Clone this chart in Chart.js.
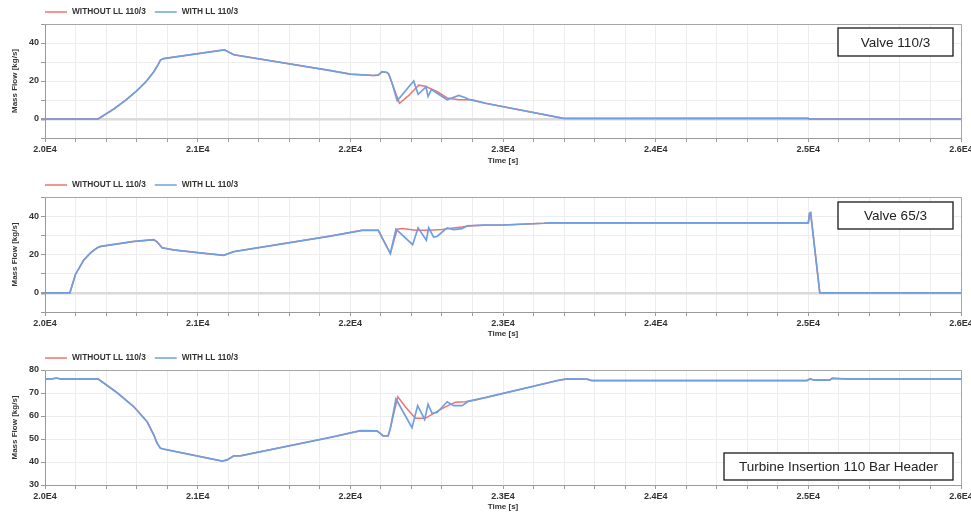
<!DOCTYPE html>
<html>
<head>
<meta charset="utf-8">
<script src="https://cdn.jsdelivr.net/npm/chart.js@4.4.1/dist/chart.umd.min.js"></script>
<style>
  html, body { margin: 0; padding: 0; background: #fff; }
  body { width: 971px; height: 513px; position: relative; overflow: hidden; }
  canvas { position: absolute; left: 0; }
</style>
</head>
<body>
<canvas id="valve110" width="971" height="170" style="top:0"></canvas>
<canvas id="valve65" width="971" height="172" style="top:170px"></canvas>
<canvas id="header110" width="971" height="173" style="top:340px"></canvas>
<script>
// series names
const seriesNames = ['WITHOUT LL 110/3', 'WITH LL 110/3'];

// Valve 110/3 mass flow [time s, kg/s]
const v110Start = [[20000, 0], [20348, 0], [20451, 5.3], [20530, 10], [20599, 14.7], [20660, 19.5],
  [20713, 24.9], [20740, 28.5], [20756, 31], [20778, 31.8], [21175, 36.4], [21237, 33.8],
  [21870, 25.5], [22001, 23.6], [22153, 22.9], [22183, 23.1], [22208, 24.9], [22240, 24.5],
  [22252, 23.6], [22274, 18.7]];
const v110With = [[22307, 9.6], [22415, 20], [22444, 13], [22496, 16.9], [22509, 11.9], [22531, 15.5],
  [22634, 10.1], [22710, 12.4], [22754, 11.2], [22775, 10.3]];
const v110Without = [[22322, 8.3], [22383, 12.4], [22448, 17.8], [22492, 17.2], [22573, 14.2],
  [22634, 11.1], [22710, 10.1], [22797, 10.1]];
const v110End = [[22885, 8.3], [23398, 0.3], [25000, 0.4], [25005, 0], [26000, 0]];

// Valve 65/3 mass flow
const v65Start = [[20000, 0], [20163, 0], [20200, 9.7], [20254, 17.1], [20300, 21], [20342, 23.5],
  [20363, 24.2], [20582, 26.8], [20713, 27.7], [20735, 26.5], [20767, 23.5], [20843, 22.4],
  [21018, 20.8], [21171, 19.6], [21237, 21.5], [21870, 29.6], [22077, 32.6], [22183, 32.6],
  [22262, 20.5]];
const v65With = [[22299, 33.2], [22408, 25.1], [22444, 33.9], [22498, 27.4], [22513, 33.9],
  [22546, 29.1], [22568, 29.4], [22634, 33.9], [22677, 33], [22732, 33.5], [22765, 35]];
const v65Without = [[22307, 33.2], [22340, 33.5], [22427, 32.6], [22513, 32.6], [22601, 33],
  [22688, 33.9], [22797, 35]];
const v65End = [[22874, 35.3], [23005, 35.4], [23267, 36.3], [23300, 36.5], [25000, 36.5],
  [25008, 41.5], [25015, 41.8], [25075, 0], [26000, 0]];

// Turbine insertion 110 bar header mass flow
const hdrStart = [[20000, 76.1], [20040, 76.1], [20076, 76.5], [20100, 76.1], [20348, 76.1],
  [20473, 70.1], [20582, 64], [20669, 57.5], [20713, 51.7], [20735, 48.1], [20756, 46],
  [20778, 45.6], [21160, 40.4], [21193, 40.9], [21237, 42.7], [21280, 42.7], [21870, 50.7],
  [22066, 53.6], [22175, 53.5], [22215, 51.4], [22248, 51.4], [22262, 54.6]];
const hdrWith = [[22299, 67.4], [22404, 54.9], [22441, 64.5], [22487, 58.5], [22509, 65.1],
  [22535, 61.2], [22568, 61.5], [22634, 66.2], [22677, 64.5], [22732, 64.5], [22775, 66.5]];
const hdrWithout = [[22311, 68.4], [22360, 64], [22426, 59], [22491, 59], [22557, 61.6],
  [22622, 64], [22688, 66], [22753, 66.2], [22819, 67]];
const hdrEnd = [[22885, 68], [23376, 75.7], [23419, 76.1], [23551, 76], [23580, 75.4],
  [24991, 75.4], [25010, 76.1], [25040, 75.6], [25140, 75.6], [25156, 76.4], [25244, 76.1],
  [26000, 76.1]];

const RED = '#f07272';
const BLUE = '#6f9fe2';
const TXT = '#333';

// legend row drawn above the plot area
const keyPlugin = {
  id: 'key',
  afterDraw(chart) {
    const {ctx, chartArea} = chart;
    const y = chartArea.top - 12;
    let x = chartArea.left;
    ctx.save();
    ctx.font = 'bold 8.3px "Liberation Sans", Arial, sans-serif';
    ctx.textBaseline = 'middle';
    chart.data.datasets.forEach(ds => {
      ctx.strokeStyle = ds.borderColor;
      ctx.lineWidth = 1.5;
      ctx.beginPath();
      ctx.moveTo(x, y);
      ctx.lineTo(x + 22, y);
      ctx.stroke();
      ctx.fillStyle = TXT;
      ctx.fillText(ds.label, x + 27, y);
      x += 27 + ctx.measureText(ds.label).width + 9;
    });
    ctx.restore();
  }
};

// grey frame on top and right of the plot
const framePlugin = {
  id: 'frame',
  beforeDatasetsDraw(chart) {
    const {ctx, chartArea: a} = chart;
    ctx.save();
    ctx.strokeStyle = '#a6a6a6';
    ctx.lineWidth = 1;
    ctx.beginPath();
    ctx.moveTo(a.left, a.top + 0.5);
    ctx.lineTo(a.right + 0.5, a.top + 0.5);
    ctx.lineTo(a.right + 0.5, a.bottom);
    ctx.stroke();
    ctx.restore();
  }
};

// boxed caption
const tagPlugin = {
  id: 'tag',
  afterDraw(chart, args, opts) {
    if (!opts.text) return;
    const {ctx} = chart;
    const [x, y, w, h] = opts.box;
    ctx.save();
    ctx.fillStyle = '#fff';
    ctx.fillRect(x, y, w, h);
    ctx.strokeStyle = '#1a1a1a';
    ctx.lineWidth = 1.3;
    ctx.strokeRect(x, y, w, h);
    ctx.fillStyle = '#222';
    ctx.font = '13.5px "Liberation Sans", Arial, sans-serif';
    ctx.textAlign = 'center';
    ctx.textBaseline = 'middle';
    ctx.fillText(opts.text, x + w / 2, y + h / 2 + 1);
    ctx.restore();
  }
};

function makeChart(id, p) {
  const h = document.getElementById(id).height;
  return new Chart(document.getElementById(id), {
    type: 'line',
    data: {
      datasets: [
        { label: seriesNames[0], data: p.without, borderColor: RED, borderWidth: 1.5, order: 1 },
        { label: seriesNames[1], data: p.with, borderColor: BLUE, borderWidth: 1.7, order: 0 }
      ]
    },
    options: {
      responsive: false,
      animation: false,
      events: [],
      layout: { padding: { top: p.areaTop, right: 10, left: 0, bottom: 0 } },
      elements: { point: { radius: 0 }, line: { tension: 0 } },
      plugins: {
        legend: { display: false },
        tooltip: { enabled: false },
        tag: { text: p.tag, box: p.tagBox }
      },
      scales: {
        x: {
          type: 'linear',
          min: 20000,
          max: 26000,
          afterFit(s) { s.height = h - p.areaBottom; s.paddingLeft = 0; s.paddingRight = 0; },
          grid: { color: '#ededed', tickColor: '#9a9a9a', tickLength: 4 },
          border: { color: '#9a9a9a' },
          ticks: {
            stepSize: 200,
            autoSkip: false,
            maxRotation: 0,
            padding: 2,
            color: TXT,
            font: { family: '"Liberation Sans", Arial, sans-serif', size: 9, weight: 'bold' },
            callback: v => (v % 1000 === 0 ? (v / 10000).toFixed(1) + 'E4' : '')
          },
          title: {
            display: true,
            text: 'Time [s]',
            color: TXT,
            padding: { top: 0, bottom: p.titlePad },
            font: { family: '"Liberation Sans", Arial, sans-serif', size: 8, weight: 'bold' }
          }
        },
        y: {
          min: p.yMin,
          max: p.yMax,
          afterFit(s) { s.width = 45; s.paddingTop = 0; s.paddingBottom = 0; },
          grid: {
            color: c => (c.tick && c.tick.value === 0 ? '#dadada' : '#ededed'),
            lineWidth: c => (c.tick && c.tick.value === 0 ? 2.5 : 1),
            tickColor: '#9a9a9a',
            tickLength: 4
          },
          border: { color: '#9a9a9a' },
          ticks: {
            stepSize: 10,
            padding: 2,
            color: TXT,
            font: { family: '"Liberation Sans", Arial, sans-serif', size: 9, weight: 'bold' },
            callback: v => (v % p.labelEvery === 0 ? String(v) : '')
          },
          title: {
            display: true,
            text: 'Mass Flow [kg/s]',
            color: TXT,
            padding: { top: 10, bottom: 0 },
            font: { family: '"Liberation Sans", Arial, sans-serif', size: 8, weight: 'bold' }
          }
        }
      }
    },
    plugins: [framePlugin, keyPlugin, tagPlugin]
  });
}

makeChart('valve110', {
  with: [...v110Start, ...v110With, ...v110End],
  without: [...v110Start, ...v110Without, ...v110End],
  yMin: -10, yMax: 50, labelEvery: 20,
  areaTop: 24, areaBottom: 138, titlePad: 4,
  tag: 'Valve 110/3', tagBox: [838, 28, 115, 28]
});

makeChart('valve65', {
  with: [...v65Start, ...v65With, ...v65End],
  without: [...v65Start, ...v65Without, ...v65End],
  yMin: -10, yMax: 50, labelEvery: 20,
  areaTop: 27, areaBottom: 142, titlePad: 3,
  tag: 'Valve 65/3', tagBox: [838, 32, 115, 27]
});

makeChart('header110', {
  with: [...hdrStart, ...hdrWith, ...hdrEnd],
  without: [...hdrStart, ...hdrWithout, ...hdrEnd],
  yMin: 30, yMax: 80, labelEvery: 10,
  areaTop: 30, areaBottom: 145, titlePad: 1,
  tag: 'Turbine Insertion 110 Bar Header', tagBox: [724, 113, 229, 27]
});
</script>
</body>
</html>
